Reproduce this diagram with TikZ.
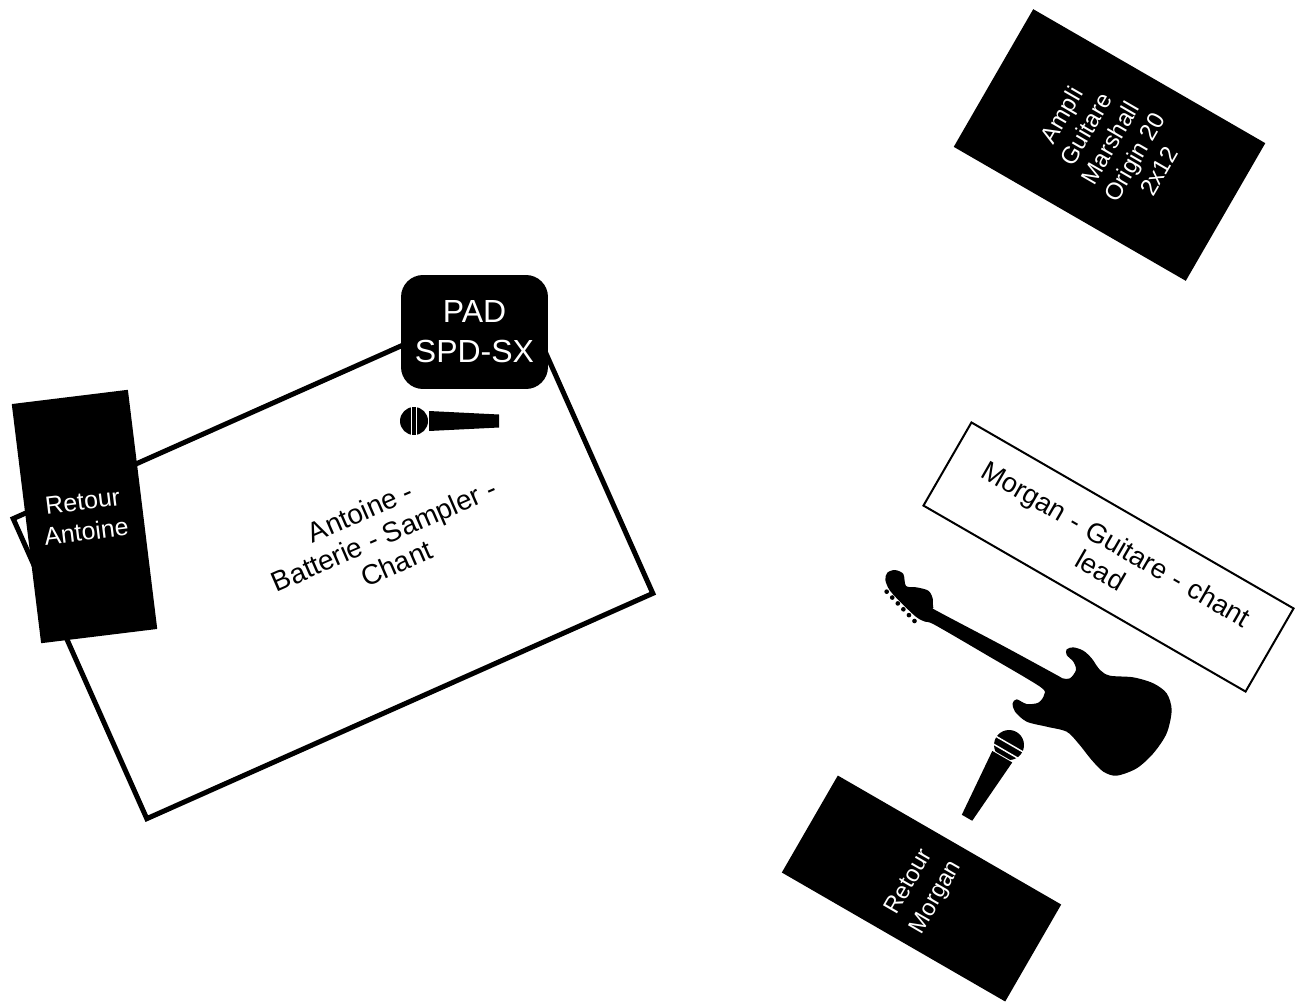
\documentclass[tikz,border=0pt]{standalone}
\usepackage{fontspec}
\setmainfont{Liberation Sans}
\tikzset{
  retour/.style={rectangle, fill=black, text=white, align=center, inner sep=0pt,
                 font=\fontsize{14.2}{17.5}\selectfont},
  blacktext/.style={align=center, inner sep=0pt, font=\fontsize{15.9}{17.6}\selectfont},
  whitetext/.style={text=white, align=center, inner sep=0pt, font=\fontsize{13.6}{16}\selectfont},
  strip/.style={draw=white, line width=0.03cm},
}
\begin{document}
\begin{tikzpicture}[x=0.02cm, y=-0.02cm]
        \useasboundingbox (0, 0) rectangle (1300, 1001);
        % Antoine
        \node[draw, rectangle, line width=0.1cm, minimum width=11.08cm, minimum height=6.57cm, rotate=24] (antoine) at (333, 556) {};
        \node[blacktext, rotate=23.5] (antoinetext) at (384, 535)
             {Antoine -\hspace*{0.5cm}\\Batterie - Sampler -\\Chant};
        \node[retour, minimum width=2.34cm, minimum height=4.82cm, rotate=7] (retourA) at (84.5, 516.5) {Retour\\Antoine};
        \node[retour, rounded corners=0.44cm, minimum width=2.94cm, minimum height=2.28cm,
              font=\fontsize{18.2}{22.6}\selectfont] (pad) at (474.5, 332) {PAD\\SPD-SX};
        % micro Antoine
        \begin{scope}[shift={(414, 421)}]
          \fill (0, 0) circle (14);
          \draw[strip] (-2.5, -16) -- (-2.5, 16);
          \draw[strip] (2.5, -16) -- (2.5, 16);
          \fill[white] (14.2, -16) rectangle (20, 16);
          \fill (15, -10) -- (85, -6.5) -- (85, 6.5) -- (15, 10) -- cycle;
        \end{scope}
        % Ampli
        \node[retour, minimum width=5.36cm, minimum height=3.18cm, rotate=-30] (amplibox) at (1109.5, 145) {};
        \node[whitetext, rotate=60] (ampli) at (1110, 143)
             {Ampli\\Guitare\\Marshall\\Origin 20\\2x12};
        % Morgan
        \node[draw, blacktext, line width=0.04cm, minimum width=7.44cm, minimum height=1.92cm, text width=6.6cm, rotate=-30,
              font=\fontsize{15.6}{17.5}\selectfont] (morgan) at (1108.5, 557)
             {Morgan - Guitare - chant\\lead};
        \node[retour, minimum width=5.16cm, minimum height=2.24cm, rotate=-30] (retourbox) at (921.5, 888.5) {};
        \node[whitetext, rotate=60, font=\fontsize{13.4}{17.5}\selectfont] (retourM) at (923, 890) {Retour\\Morgan};
        % micro Morgan
        \begin{scope}[shift={(1009, 745)}, rotate=-120]
          \fill (0, 0) circle (15);
          \draw[strip] (-1, -17) -- (-1, 17);
          \draw[strip] (7, -17) -- (7, 17);
          \fill[white] (12.5, -17) rectangle (19, 17);
          \fill (13.5, -11.5) -- (84, -6) -- (84, 6) -- (13.5, 11.5) -- cycle;
        \end{scope}
        % guitare
        \begin{scope}[shift={(870, 560)}, x=0.02cm/3, y=-0.02cm/3]
          \fill plot[smooth cycle, tension=0.5] coordinates {
            (75,30) (100,42) (108,78) (140,82) (175,92) (188,115) (190,143) (205,155)
            (400,258) (560,345) (578,355) (600,355) (618,330) (610,305) (590,285) (590,268) (610,262)
            (640,272) (665,295) (690,330) (720,347) (790,352) (850,370) (890,400)
            (905,450) (890,520) (850,580) (800,625) (740,647) (700,635) (665,600)
            (625,550) (590,515) (530,500) (470,485) (435,455) (428,430) (440,418)
            (470,432) (505,428) (522,405) (510,380) (350,285) (195,195) (165,185) (140,172)
            (100,135) (60,92) (46,60) (52,38)};
          \foreach \i in {0,...,5}
            \fill (50+16.7*\i, 95+17.6*\i) circle (7);
        \end{scope}
\end{tikzpicture}
\end{document}
